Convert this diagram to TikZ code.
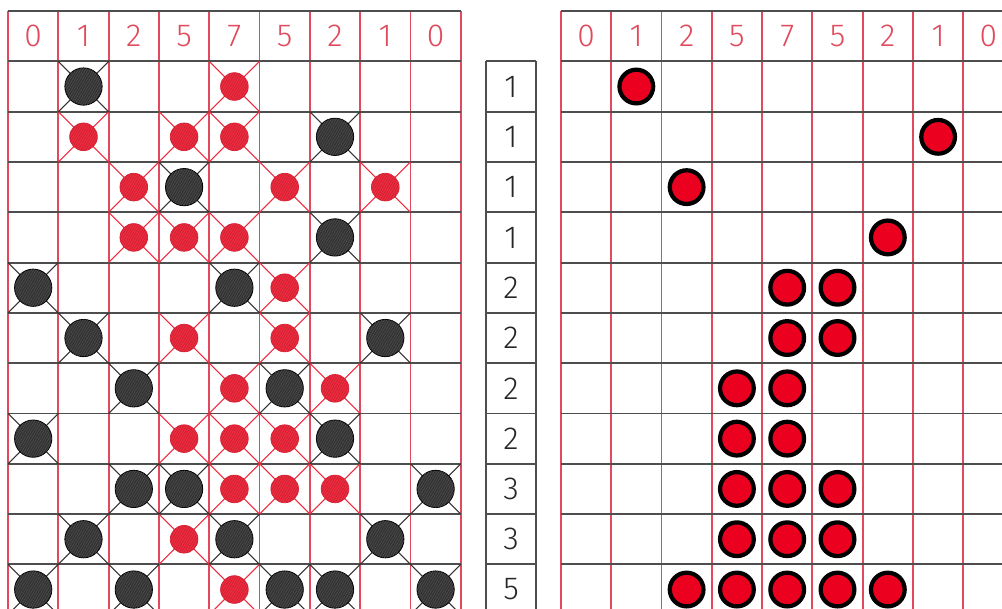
\documentclass[tikz,border=0pt]{standalone}
\usepackage{fontspec}
\setmainfont{Fira Sans Light}
\usetikzlibrary{patterns.meta}
\definecolor{gridred}{HTML}{E04A5C}
\definecolor{gridgray}{HTML}{4E4E4E}
\definecolor{stonedark}{HTML}{333333}
\definecolor{stonered}{HTML}{F02A3E}
\definecolor{queenred}{HTML}{EC0020}
\tikzset{
  colline/.style={gridred, line width=1.05pt},
  rowline/.style={gridgray, line width=1.05pt},
  headdigit/.style={text=gridred, font=\fontsize{18}{21}\selectfont, inner sep=0pt},
  countdigit/.style={text=black!85, font=\fontsize{18}{21}\selectfont, inner sep=0pt},
  blackcross/.style={black!80, line width=0.6pt},
  redcross/.style={stonered, line width=0.6pt},
  blackstone/.style={circle, inner sep=0pt, minimum size=0.74cm, fill=stonedark, draw=black, line width=0.5pt,
    postaction={pattern={Lines[angle=60, distance=1.2pt, line width=0.2pt]}, pattern color=gray!70!black}},
  redstone/.style={circle, inner sep=0pt, minimum size=0.55cm, fill=stonered, draw=stonered!90!black, line width=0.4pt,
    postaction={pattern={Lines[angle=60, distance=1.2pt, line width=0.2pt]}, pattern color=stonered!75!black}},
  queen/.style={circle, inner sep=0pt, minimum size=0.67cm, fill=queenred, draw=black, line width=2.4pt},
}
\begin{document}
\begin{tikzpicture}[x=1cm,y=1cm]
\useasboundingbox (0,0) rectangle (19.92,-12.09);
\clip (0,0) rectangle (19.92,-12.09);
\fill[white] (0,0) rectangle (19.92,-12.09);

% left board and right board
\foreach \gx in {0.16,11.15} {
  \foreach \i in {0,...,9} \draw[colline] (\gx+\i,-0.22) -- (\gx+\i,-12.4);
  \foreach \j in {0,...,11} \draw[rowline] (\gx,-0.22-\j) -- (\gx+9,-0.22-\j);
  \foreach \d [count=\i from 0] in {0,1,2,5,7,5,2,1,0}
    \node[headdigit] (h-\gx-\i) at (\gx+\i+0.5,-0.72) {\d};
}

% row counts
\foreach \j in {0,...,11} \draw[rowline] (9.66,-1.22-\j) -- (10.66,-1.22-\j);
\draw[rowline] (9.66,-1.22) -- (9.66,-12.4);
\draw[rowline] (10.66,-1.22) -- (10.66,-12.4);
\foreach \n [count=\r from 0] in {1,1,1,1,2,2,2,2,3,3,5}
  \node[countdigit] (n-\r) at (10.16,-1.72-\r) {\n};

% crossed cells
\foreach \c/\r in {4/0,1/1,3/1,4/1,2/2,5/2,7/2,2/3,3/3,4/3,5/4,3/5,5/5,4/6,6/6,3/7,4/7,5/7,4/8,5/8,6/8,3/9,4/10} {
  \draw[redcross] (0.16+\c,-1.22-\r) -- (1.16+\c,-2.22-\r);
  \draw[redcross] (1.16+\c,-1.22-\r) -- (0.16+\c,-2.22-\r);
}
\foreach \c/\r in {1/0,6/1,3/2,6/3,0/4,4/4,1/5,7/5,2/6,5/6,0/7,6/7,2/8,3/8,8/8,1/9,4/9,7/9,0/10,2/10,5/10,6/10,8/10} {
  \draw[blackcross] (0.16+\c,-1.22-\r) -- (1.16+\c,-2.22-\r);
  \draw[blackcross] (1.16+\c,-1.22-\r) -- (0.16+\c,-2.22-\r);
}

% stones
\foreach \c/\r in {4/0,1/1,3/1,4/1,2/2,5/2,7/2,2/3,3/3,4/3,5/4,3/5,5/5,4/6,6/6,3/7,4/7,5/7,4/8,5/8,6/8,3/9,4/10}
  \node[redstone] (r-\c-\r) at (0.66+\c,-1.72-\r) {};
\foreach \c/\r in {1/0,6/1,3/2,6/3,0/4,4/4,1/5,7/5,2/6,5/6,0/7,6/7,2/8,3/8,8/8,1/9,4/9,7/9,0/10,2/10,5/10,6/10,8/10}
  \node[blackstone] (b-\c-\r) at (0.66+\c,-1.72-\r) {};

% solution
\foreach \c/\r in {1/0,7/1,2/2,6/3,4/4,5/4,4/5,5/5,3/6,4/6,3/7,4/7,3/8,4/8,5/8,3/9,4/9,5/9,2/10,3/10,4/10,5/10,6/10}
  \node[queen] (q-\c-\r) at (11.65+\c,-1.72-\r) {};
\end{tikzpicture}
\end{document}
